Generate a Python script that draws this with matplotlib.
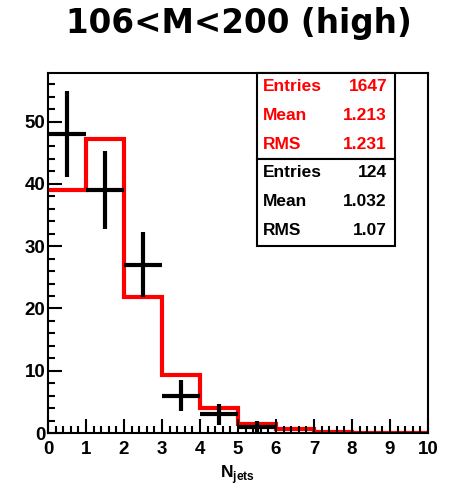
import numpy as np
import matplotlib
matplotlib.use("Agg")
import matplotlib.pyplot as plt
from matplotlib.ticker import MultipleLocator

plt.rcParams['font.family'] = ['Liberation Sans', 'DejaVu Sans']
plt.rcParams['font.weight'] = 'bold'
plt.rcParams['mathtext.fontset'] = 'custom'
plt.rcParams['mathtext.bf'] = 'Liberation Sans:bold'
plt.rcParams['mathtext.rm'] = 'Liberation Sans:bold'

# bin edges 0..10, one bin per jet multiplicity
bin_edges = np.arange(0, 11)
mc_counts = [39.0, 47.2, 21.9, 9.3, 4.0, 1.4, 0.65, 0.2, 0.05, 0.0]
data_counts = [48, 39, 27, 6, 3, 1]

mc_stats = [("Entries", "1647"), ("Mean", "1.213"), ("RMS", "1.231")]
data_stats = [("Entries", "124"), ("Mean", "1.032"), ("RMS", "1.07")]

fig = plt.figure(figsize=(4.5, 4.88), dpi=100)
ax = fig.add_axes([48/450, 1-433/488, 380/450, 360/488])

# red MC histogram
ax.stairs(mc_counts, bin_edges, color='red', lw=3.0, baseline=None)

# black data points with sqrt(N) errors
x_data = bin_edges[:len(data_counts)] + 0.5
y_data = np.array(data_counts, dtype=float)
ax.errorbar(x_data, y_data, xerr=0.5, yerr=np.sqrt(y_data), fmt='none',
            ecolor='black', elinewidth=3.0, capsize=0)

ax.set_xlim(0, 10)
ax.set_ylim(0, 57.8)
ax.xaxis.set_major_locator(MultipleLocator(1))
ax.xaxis.set_minor_locator(MultipleLocator(0.2))
ax.yaxis.set_major_locator(MultipleLocator(10))
ax.yaxis.set_minor_locator(MultipleLocator(2))
ax.tick_params(which='both', direction='in', top=False, right=False,
               labelsize=13.5, width=1.5)
ax.tick_params(which='major', length=10)
ax.tick_params(which='minor', length=5)
ax.tick_params(axis='x', pad=6)
ax.tick_params(axis='y', pad=2)
for lab in ax.get_xticklabels() + ax.get_yticklabels():
    lab.set_fontweight('bold')
for sp in ax.spines.values():
    sp.set_linewidth(1.5)

ax.set_xlabel(r'$\mathbf{N}_{\mathbf{jets}}$', fontsize=12.5, labelpad=2)
ax.xaxis.set_label_coords(0.5, -0.085)

# title (ROOT draws it wide, DejaVu Sans Bold gives the closest width)
fig.text(238.5/450, 1-24/488, "106<M<200 (high)", ha='center', va='center',
         fontsize=23.5, fontweight='bold', family=['DejaVu Sans'])

# stats boxes
box_l, box_r = 257/450, 395/450
top, mid, bot = 1-73/488, 1-159/488, 1-246/488
for y0, y1 in [(mid, top), (bot, mid)]:
    fig.add_artist(plt.Rectangle((box_l, y0), box_r-box_l, y1-y0,
                                 transform=fig.transFigure, fill=True,
                                 facecolor='white', edgecolor='black', lw=1.5))
row_y = [86.7, 115.7, 144.3, 172.7, 201.7, 230.7]
rows = [(k, v, 'red') for k, v in mc_stats] + [(k, v, 'black') for k, v in data_stats]
for (k, v, c), yy in zip(rows, row_y):
    fig.text(263/450, 1-yy/488, k, color=c, ha='left', va='center',
             fontsize=12.5, fontweight='bold')
    fig.text(387/450, 1-yy/488, v, color=c, ha='right', va='center',
             fontsize=12.5, fontweight='bold')

fig.savefig("out.png", dpi=100)
